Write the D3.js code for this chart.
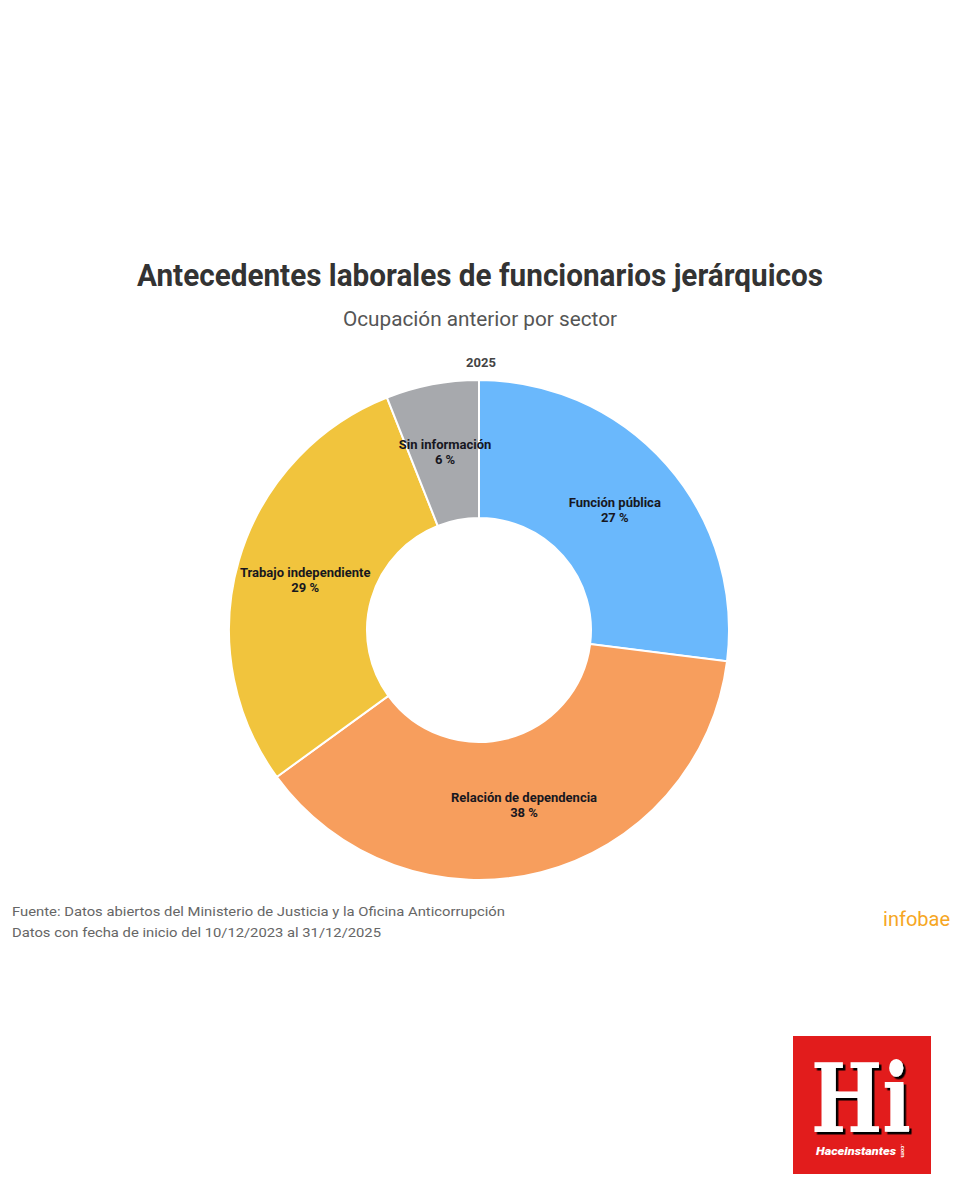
<!DOCTYPE html>
<html>
<head>
<meta charset="utf-8">
<script src="https://cdn.jsdelivr.net/npm/d3@7"></script>
<style>
  body { margin: 0; background: #fff; }
  svg { display: block; }
</style>
</head>
<body>
<svg id="chart" width="960" height="1200"></svg>
<script>
const categories = ['Función pública', 'Relación de dependencia', 'Trabajo independiente', 'Sin información'];
const values = [27, 38, 29, 6];
const colors = ['#6ab8fc', '#f79e5d', '#f1c43d', '#a7a9ad'];

const svg = d3.select('#chart');
const cx = 479, cy = 630;
const outerR = 250, innerR = 112;

// shadow for the logo letters
const flt = svg.append('defs').append('filter').attr('id', 'shadow')
  .attr('x', '-10%').attr('y', '-10%').attr('width', '130%').attr('height', '130%');
flt.append('feDropShadow').attr('dx', 2.5).attr('dy', 2.5).attr('stdDeviation', 0.3)
  .attr('flood-color', '#000').attr('flood-opacity', 1);

// title block
svg.append('text')
  .attr('x', 480).attr('y', 286)
  .attr('text-anchor', 'middle')
  .attr('font-family', 'Roboto, sans-serif')
  .attr('font-weight', 700)
  .attr('font-size', 31)
  .attr('fill', '#333')
  .attr('textLength', 686)
  .attr('lengthAdjust', 'spacingAndGlyphs')
  .text('Antecedentes laborales de funcionarios jerárquicos');

svg.append('text')
  .attr('x', 480).attr('y', 326)
  .attr('text-anchor', 'middle')
  .attr('font-family', 'Roboto, sans-serif')
  .attr('font-size', 20)
  .attr('fill', '#555')
  .attr('textLength', 274)
  .attr('lengthAdjust', 'spacingAndGlyphs')
  .text('Ocupación anterior por sector');

svg.append('text')
  .attr('x', 481).attr('y', 367)
  .attr('text-anchor', 'middle')
  .attr('font-family', 'Roboto, sans-serif')
  .attr('font-weight', 700)
  .attr('font-size', 13)
  .attr('fill', '#444')
  .text('2025');

// donut
const pie = d3.pie().sort(null).value(d => d.v);
const arc = d3.arc().innerRadius(innerR).outerRadius(outerR);
const data = pie(categories.map((c, i) => ({ c: c, v: values[i], col: colors[i] })));

const g = svg.append('g').attr('transform', `translate(${cx},${cy})`);
g.selectAll('path').data(data).enter()
  .append('path')
  .attr('d', arc)
  .attr('fill', d => d.data.col)
  .attr('stroke', '#fff')
  .attr('stroke-width', 2);

const lbl = g.selectAll('text.lbl').data(data).enter()
  .append('text')
  .attr('class', 'lbl')
  .attr('transform', d => {
    const c = arc.centroid(d);
    return `translate(${c[0]},${c[1]})`;
  })
  .attr('text-anchor', 'middle')
  .attr('font-family', 'Roboto, sans-serif')
  .attr('font-weight', 700)
  .attr('font-size', 13)
  .attr('fill', '#17171f');
lbl.append('tspan').attr('x', 0).attr('y', -3).text(d => d.data.c);
lbl.append('tspan').attr('x', 0).attr('y', 12).text(d => d.data.v + ' %');

// footer
const foot = svg.append('text')
  .attr('font-family', 'Roboto, sans-serif')
  .attr('font-size', 13.5)
  .attr('fill', '#666');
foot.append('tspan').attr('x', 12).attr('y', 916)
  .attr('textLength', 493).attr('lengthAdjust', 'spacingAndGlyphs')
  .text('Fuente: Datos abiertos del Ministerio de Justicia y la Oficina Anticorrupción');
foot.append('tspan').attr('x', 12).attr('y', 937)
  .attr('textLength', 369).attr('lengthAdjust', 'spacingAndGlyphs')
  .text('Datos con fecha de inicio del 10/12/2023 al 31/12/2025');

svg.append('text')
  .attr('x', 950).attr('y', 926)
  .attr('text-anchor', 'end')
  .attr('font-family', 'Roboto, sans-serif')
  .attr('font-size', 20)
  .attr('fill', '#f6a623')
  .text('infobae');

// watermark logo
const logo = svg.append('g').attr('transform', 'translate(793,1036)');
logo.append('rect').attr('width', 138).attr('height', 138).attr('fill', '#e21c1c');
logo.append('text')
  .attr('x', 68).attr('y', 96)
  .attr('text-anchor', 'middle')
  .attr('font-family', '"DejaVu Serif", serif')
  .attr('font-weight', 700)
  .attr('font-size', 96)
  .attr('fill', '#fff')
  .attr('filter', 'url(#shadow)')
  .attr('textLength', 100).attr('lengthAdjust', 'spacingAndGlyphs')
  .text('Hi');
logo.append('text')
  .attr('x', 63).attr('y', 119)
  .attr('text-anchor', 'middle')
  .attr('font-family', 'Roboto, sans-serif')
  .attr('font-weight', 900)
  .attr('font-style', 'italic')
  .attr('font-size', 11)
  .attr('fill', '#fff')
  .attr('textLength', 80).attr('lengthAdjust', 'spacingAndGlyphs')
  .text('Haceinstantes');
logo.append('text')
  .attr('transform', 'translate(108,108) rotate(90)')
  .attr('font-family', 'Roboto, sans-serif')
  .attr('font-weight', 700)
  .attr('font-size', 6)
  .attr('fill', '#fff')
  .text('.com');
</script>
</body>
</html>
